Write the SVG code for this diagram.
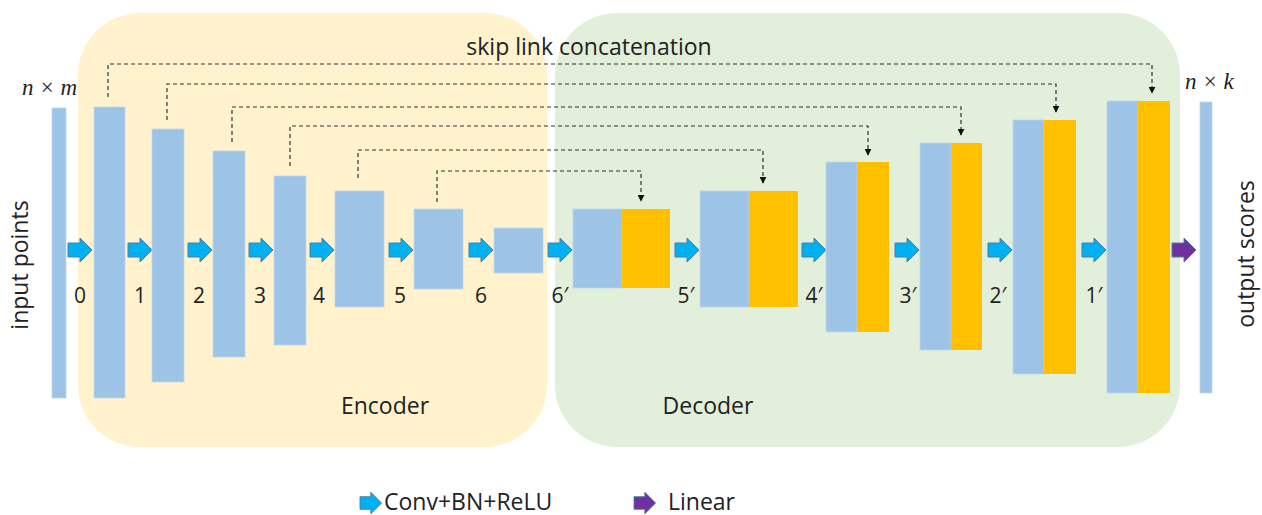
<svg xmlns="http://www.w3.org/2000/svg" width="1262" height="515" viewBox="0 0 1262 515">
<defs>
<style>
.bg-enc{fill:#FFF2CC}
.bg-dec{fill:#E2EFDA}
.b{fill:#9DC3E6;stroke:#BDD7EE;stroke-width:0.8}
.o{fill:#FFC000}
.t{font-family:"Open Sans","Liberation Sans",sans-serif;font-size:23px;fill:#222}
.n{font-family:"Open Sans","Liberation Sans",sans-serif;font-size:21px;fill:#222}
.m{font-family:"Liberation Serif",serif;font-style:italic;font-size:23px;fill:#222}
.d{fill:none;stroke:#333;stroke-width:1.2;stroke-dasharray:4 3}
.ca{fill:#00B0F0;stroke:#4A7FA8;stroke-width:1}
.la{fill:#7030A0;stroke:#4A7FA8;stroke-width:1}
</style>
<marker id="ah" viewBox="0 0 10 10" refX="9" refY="5" markerWidth="7" markerHeight="7" orient="auto" markerUnits="userSpaceOnUse">
<path d="M0,0 L10,5 L0,10 z" fill="#111"/>
</marker>
<path id="arr" d="M0,-7 L12,-7 L12,-12 L24,0 L12,12 L12,7 L0,7 z"/>
</defs>
<rect width="1262" height="515" fill="#fff"/>
<g id="encoder-bg"><rect class="bg-enc" x="78" y="13" width="469" height="434" rx="62"/></g>
<g id="decoder-bg"><rect class="bg-dec" x="555" y="13" width="625" height="434" rx="62"/></g>

<g id="connectors">
<path class="d" d="M108,97 V64 H1152 V93" marker-end="url(#ah)"/>
<path class="d" d="M167,120 V84 H1056 V112" marker-end="url(#ah)"/>
<path class="d" d="M232,142 V107 H961 V135" marker-end="url(#ah)"/>
<path class="d" d="M290,166 V126 H868 V155" marker-end="url(#ah)"/>
<path class="d" d="M358,178 V150 H763 V183" marker-end="url(#ah)"/>
<path class="d" d="M437,202 V171 H641 V201" marker-end="url(#ah)"/>
<use href="#arr" class="ca" x="68" y="250"/>
<use href="#arr" class="ca" x="128" y="250"/>
<use href="#arr" class="ca" x="188" y="250"/>
<use href="#arr" class="ca" x="249" y="250"/>
<use href="#arr" class="ca" x="310" y="250"/>
<use href="#arr" class="ca" x="389" y="250"/>
<use href="#arr" class="ca" x="469" y="250"/>
<use href="#arr" class="ca" x="548" y="250"/>
<use href="#arr" class="ca" x="675" y="250"/>
<use href="#arr" class="ca" x="802" y="250"/>
<use href="#arr" class="ca" x="895" y="250"/>
<use href="#arr" class="ca" x="988" y="250"/>
<use href="#arr" class="ca" x="1082" y="250"/>
<use href="#arr" class="la" x="1172" y="250"/>
</g>

<g id="input"><rect class="b" x="52" y="108" width="14" height="290"/></g>
<g id="enc0"><rect class="b" x="94" y="107" width="31" height="291"/></g>
<g id="enc1"><rect class="b" x="152" y="129" width="32" height="253"/></g>
<g id="enc2"><rect class="b" x="213" y="151" width="32" height="206"/></g>
<g id="enc3"><rect class="b" x="274" y="176" width="32" height="169"/></g>
<g id="enc4"><rect class="b" x="335" y="191" width="49" height="116"/></g>
<g id="enc5"><rect class="b" x="414" y="209" width="49" height="80"/></g>
<g id="enc6"><rect class="b" x="494" y="228" width="49" height="45"/></g>

<g id="dec6"><rect class="b" x="573" y="209" width="49" height="79"/><rect class="o" x="622" y="209" width="48" height="79"/></g>
<g id="dec5"><rect class="b" x="700" y="191" width="49" height="116"/><rect class="o" x="749" y="191" width="49" height="116"/></g>
<g id="dec4"><rect class="b" x="826" y="162" width="31" height="170"/><rect class="o" x="857" y="162" width="32" height="170"/></g>
<g id="dec3"><rect class="b" x="920" y="143" width="31" height="207"/><rect class="o" x="951" y="143" width="31" height="207"/></g>
<g id="dec2"><rect class="b" x="1013" y="120" width="31" height="254"/><rect class="o" x="1044" y="120" width="32" height="254"/></g>
<g id="dec1"><rect class="b" x="1107" y="101" width="31" height="292"/><rect class="o" x="1138" y="101" width="32" height="292"/></g>
<g id="output"><rect class="b" x="1200" y="102" width="12" height="291"/></g>

<g id="labels">
<text class="t" x="589" y="55" text-anchor="middle">skip link concatenation</text>
<text class="m" x="22" y="95">n × m</text>
<text class="m" x="1185" y="89">n × k</text>
<text class="t" x="0" y="0" text-anchor="middle" transform="translate(28,265) rotate(-90)">input points</text>
<text class="t" x="0" y="0" text-anchor="middle" transform="translate(1254,254) rotate(-90)">output scores</text>
<text class="n" x="80" y="303" text-anchor="middle">0</text>
<text class="n" x="140" y="303" text-anchor="middle">1</text>
<text class="n" x="199" y="303" text-anchor="middle">2</text>
<text class="n" x="260" y="303" text-anchor="middle">3</text>
<text class="n" x="319" y="303" text-anchor="middle">4</text>
<text class="n" x="400" y="303" text-anchor="middle">5</text>
<text class="n" x="481" y="303" text-anchor="middle">6</text>
<text class="n" x="560" y="303" text-anchor="middle">6′</text>
<text class="n" x="686" y="303" text-anchor="middle">5′</text>
<text class="n" x="814" y="303" text-anchor="middle">4′</text>
<text class="n" x="908" y="303" text-anchor="middle">3′</text>
<text class="n" x="998" y="303" text-anchor="middle">2′</text>
<text class="n" x="1094" y="303" text-anchor="middle">1′</text>
<text class="t" x="385" y="414" text-anchor="middle">Encoder</text>
<text class="t" x="708" y="414" text-anchor="middle">Decoder</text>
</g>

<g id="legend">
<use href="#arr" class="ca" transform="translate(360,503) scale(0.9)"/>
<text class="t" x="384" y="510">Conv+BN+ReLU</text>
<use href="#arr" class="la" transform="translate(634,503) scale(0.9)"/>
<text class="t" x="668" y="510">Linear</text>
</g>
</svg>
